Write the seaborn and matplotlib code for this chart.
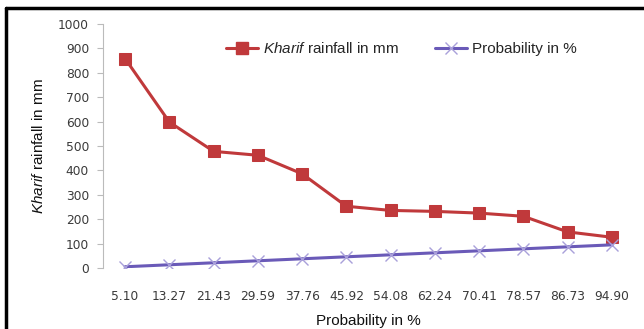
import matplotlib
matplotlib.use("Agg")
import matplotlib.pyplot as plt
import seaborn as sns
import pandas as pd
from matplotlib.lines import Line2D

categories = ["5.10", "13.27", "21.43", "29.59", "37.76", "45.92",
              "54.08", "62.24", "70.41", "78.57", "86.73", "94.90"]
rainfall = [858, 598, 478, 462, 386, 253, 236, 232, 225, 212, 148, 126]
probability = [5.10, 13.27, 21.43, 29.59, 37.76, 45.92,
               54.08, 62.24, 70.41, 78.57, 86.73, 94.90]
yticks = [0, 100, 200, 300, 400, 500, 600, 700, 800, 900, 1000]

sns.set_theme(style="white")
plt.rcParams['font.family'] = ['Liberation Sans', 'DejaVu Sans']
plt.rcParams['mathtext.fontset'] = 'custom'
plt.rcParams['mathtext.it'] = 'Liberation Sans:italic'
plt.rcParams['mathtext.rm'] = 'Liberation Sans'

red = "#C0393B"
purple = "#6A5AB8"

fig = plt.figure(figsize=(6.44, 3.29), dpi=100)
ax = fig.add_axes([103/644, 1-268/329, (634-103)/644, (268-24)/329])

df = pd.DataFrame({"cat": categories, "rain": rainfall, "prob": probability})
sns.lineplot(data=df, x="cat", y="rain", ax=ax, color=red, lw=2.2,
             marker="s", markersize=8, markeredgecolor=red, sort=False)
sns.lineplot(data=df, x="cat", y="prob", ax=ax, color=purple, lw=2.2,
             marker="x", markersize=9, markeredgecolor="#A9A0DA", markeredgewidth=1.0, sort=False)

ax.set_xlim(-0.5, 11.5)
ax.set_ylim(0, 1000)
ax.set_yticks(yticks)
ax.set_yticklabels([str(t) for t in yticks], fontsize=8.8, color="#3a3a3a", family="DejaVu Sans")
ax.set_xticks(range(len(categories)))
ax.set_xticklabels(categories, fontsize=8.8, color="#3a3a3a", family="DejaVu Sans")
ax.set_xticks([i + 0.5 for i in range(-1, 12)], minor=True)
ax.tick_params(axis="x", which="major", length=0, pad=16)
ax.tick_params(axis="x", which="minor", length=4, color="#BBBBBB", width=0.8, direction="in")
ax.tick_params(axis="y", which="major", length=4, color="#BBBBBB", width=0.8, left=True, pad=6)

for s in ["top", "right", "bottom"]:
    ax.spines[s].set_visible(False)
ax.spines["left"].set_color("#BBBBBB")
ax.spines["left"].set_linewidth(0.8)

ax.set_xlabel("Probability in %", fontsize=11, color="#111111")
ax.set_ylabel(r"$\it{Kharif}$ rainfall in mm", fontsize=11, color="#111111")
ax.xaxis.set_label_coords(0.5, -0.19)
ax.yaxis.set_label_coords(-0.107, 0.5)

handles = [
    Line2D([], [], color=red, lw=2.2, marker="s", markersize=8),
    Line2D([], [], color=purple, lw=2.2, marker="x", markersize=8, markeredgecolor="#A9A0DA"),
]
ax.legend(handles, [r"$\it{Kharif}$ rainfall in mm", "Probability in %"],
          loc="upper left", bbox_to_anchor=((226-103)/531, (268-41)/244), ncol=2, frameon=False,
          fontsize=11, handlelength=2.1, columnspacing=2.4, handletextpad=0.3,
          borderaxespad=0, borderpad=0)

# black frame lines on the left and top of the figure
fig.add_artist(Line2D([6/644, 6/644], [0, 1-8/329], color="black", lw=2.5, transform=fig.transFigure))
fig.add_artist(Line2D([6/644, 1], [1-8/329, 1-8/329], color="black", lw=2.5, transform=fig.transFigure))

fig.savefig("out.png", dpi=100)
